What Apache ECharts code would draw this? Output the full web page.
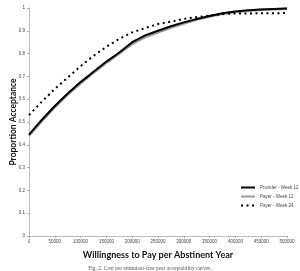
<!DOCTYPE html>
<html><head><meta charset="utf-8">
<script src="https://cdn.jsdelivr.net/npm/echarts@6/dist/echarts.min.js"></script>
<style>html,body{margin:0;padding:0;background:#fff}#c{width:300px;height:271px}</style>
</head><body><div id="c"></div>
<script>
const xValues = [0,25000,50000,75000,100000,125000,150000,175000,200000,225000,250000,275000,300000,325000,350000,375000,400000,425000,450000,475000,500000];
const providerWeek12 = [0.445,0.51,0.57,0.625,0.675,0.72,0.765,0.805,0.85,0.88,0.90,0.92,0.937,0.952,0.965,0.977,0.985,0.99,0.993,0.996,0.998];
const payerWeek12 = [0.44,0.505,0.565,0.62,0.67,0.716,0.76,0.80,0.843,0.872,0.893,0.914,0.932,0.949,0.963,0.975,0.983,0.988,0.992,0.995,0.997];
const payerWeek24 = [0.53,0.59,0.645,0.695,0.745,0.79,0.83,0.865,0.893,0.912,0.93,0.94,0.952,0.96,0.967,0.973,0.976,0.976,0.977,0.977,0.978];
const seriesNames = ['Provider - Week 12','Payer - Week 12','Payer - Week 24'];
const xTitle = 'Willingness to Pay per Abstinent Year';
const yTitle = 'Proportion Acceptance';
const caption = 'Fig. 2. Cost per stimulant-free year acceptability curves.';

const pairs = a => xValues.map((x,i)=>[x,a[i]]);
const chart = echarts.init(document.getElementById('c'));
chart.setOption({
  animation:false,
  backgroundColor:'#fff',
  grid:{left:29,right:13,top:8,bottom:35,containLabel:false,outerBoundsMode:'none'},
  title:{text:caption,left:'center',top:261,textStyle:{fontFamily:'Liberation Serif',fontSize:5.5,fontWeight:'normal',color:'#555'}},
  legend:{orient:'vertical',left:235,top:180,itemWidth:14,itemHeight:6,itemGap:4,
    itemStyle:{opacity:0},
    textStyle:{fontSize:4.5,color:'#444',fontFamily:'Liberation Sans'},
    data:seriesNames},
  xAxis:{type:'value',min:0,max:500000,interval:50000,
    name:xTitle,nameLocation:'middle',nameGap:15,nameMoveOverlap:false,
    nameTextStyle:{fontFamily:'Lato',fontWeight:'bold',fontSize:9,color:'#111'},
    axisLine:{lineStyle:{color:'#aaa',width:0.8}},
    axisTick:{show:true,length:2,lineStyle:{color:'#aaa'}},
    axisLabel:{fontSize:4.5,color:'#444',margin:3,formatter:v=>String(v)},
    splitLine:{show:false}},
  yAxis:{type:'value',min:0,max:1,interval:0.1,
    name:yTitle,nameLocation:'middle',nameGap:11,nameMoveOverlap:false,
    nameTextStyle:{fontFamily:'Lato',fontWeight:'bold',fontSize:8.5,color:'#111'},
    axisLine:{show:true,lineStyle:{color:'#aaa',width:0.8}},
    axisTick:{show:true,length:2,lineStyle:{color:'#aaa'}},
    axisLabel:{fontSize:4.5,color:'#444',margin:4,formatter:v=>String(Math.round(v*10)/10)},
    splitLine:{show:false}},
  series:[
    {name:seriesNames[1],type:'line',data:pairs(payerWeek12),symbol:'none',z:2,
      itemStyle:{color:'#999'},lineStyle:{color:'#999',width:2.5}},
    {name:seriesNames[0],type:'line',data:pairs(providerWeek12),symbol:'none',z:3,
      itemStyle:{color:'#000'},lineStyle:{color:'#000',width:2}},
    {name:seriesNames[2],type:'line',data:pairs(payerWeek24),symbol:'none',z:4,
      itemStyle:{color:'#000'},lineStyle:{color:'#000',width:2,type:[2,3.5]}}
  ]
});
</script></body></html>
